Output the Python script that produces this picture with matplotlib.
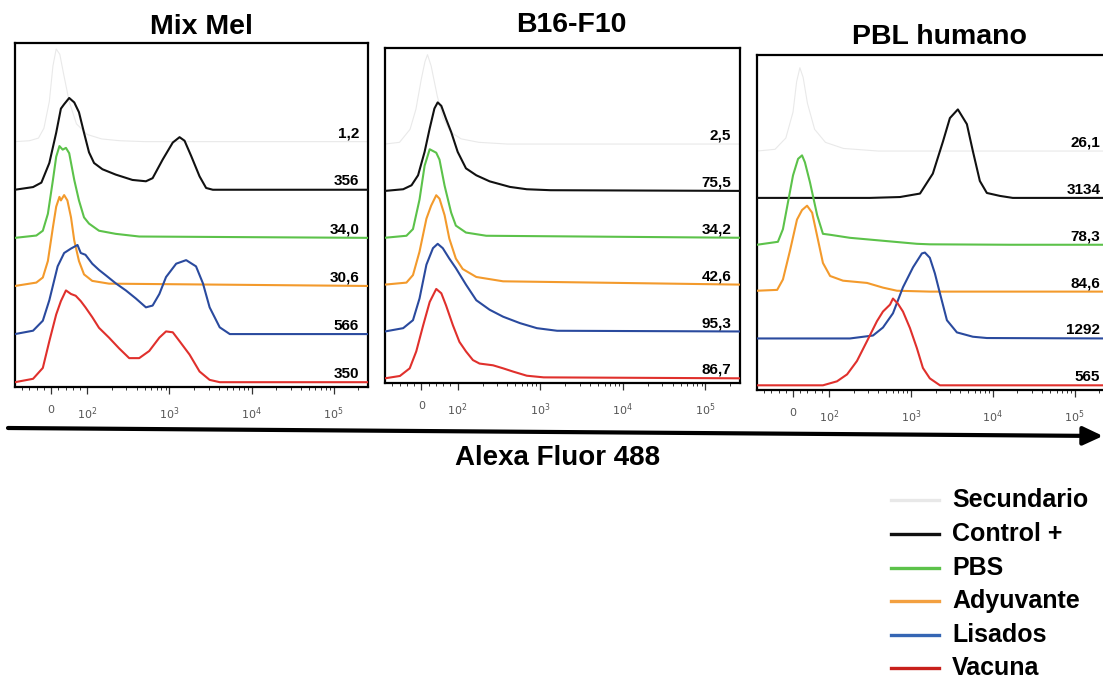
import numpy as np
import matplotlib
matplotlib.use("Agg")
import matplotlib.pyplot as plt
from matplotlib.lines import Line2D
from matplotlib.patches import FancyArrowPatch
from matplotlib.ticker import FixedLocator, NullFormatter
import matplotlib.transforms as mtransforms

plt.rcParams["font.family"] = ["Liberation Sans", "DejaVu Sans"]

W, H = 1103, 678
STEP = 54                 # vertical offset between stacked histograms (% of mode)
XMIN, XMAX = -100, 262144

SERIES = ["Secundario", "Control +", "PBS", "Adyuvante", "Lisados", "Vacuna"]
COLORS = ["#e9e9e9", "#111111", "#5cc24a", "#f39a2c", "#2a4a9e", "#e0302c"]
LEG_COLORS = ["#e8e8e8", "#111111", "#5cc24a", "#f3a040", "#3566b4", "#c8201c"]
PANELS = ["Mix Mel", "B16-F10", "PBL humano"]

# MFI printed at the right end of each trace
MFI_MIXMEL = ["1,2", "356", "34,0", "30,6", "566", "350"]
MFI_B16 = ["2,5", "75,5", "34,2", "42,6", "95,3", "86,7"]
MFI_PBL = ["26,1", "3134", "78,3", "84,6", "1292", "565"]

# histogram traces: (Alexa Fluor 488 intensity, % of mode)
mix_sec = ([-100, -60, -35, -20, -5, 5, 14, 24, 35, 50, 70, 100, 150, 250, 500, 262000],
           [0, 1, 4, 15, 45, 85, 104, 98, 75, 45, 20, 8, 3, 1, 0, 0])
mix_ctrl = ([-100, -50, -27, -5, 14, 27, 36, 50, 64, 77, 91, 105, 121, 153, 222, 355, 518, 625,
             830, 1100, 1330, 1530, 1840, 2330, 2800, 3380, 262000],
            [0, 3, 8, 30, 64, 91, 96, 103, 98, 87, 64, 42, 30, 23, 17, 11, 9.5, 13,
             34, 53, 59, 55, 38, 15, 2, 0, 0])
mix_pbs = ([-100, -41, -23, -9, 5, 14, 23, 32, 41, 50, 64, 77, 91, 105, 139, 222, 429, 262000],
           [0, 2.6, 8, 27, 65, 91, 103, 99, 101, 95, 65, 42, 23, 16, 8, 4.5, 1.5, 0])
mix_ady = ([-100, -41, -23, -9, 5, 14, 23, 27, 36, 45, 55, 64, 77, 91, 115, 184, 262000],
           [0, 3.8, 9.5, 28, 66, 89, 100, 96, 102, 96, 77, 51, 28, 13, 5.7, 2.6, 0])
mix_lis = ([-100, -50, -23, -5, 18, 36, 55, 73, 82, 95, 115, 139, 168, 222, 295, 390, 518, 625,
            755, 910, 1210, 1600, 2110, 2560, 3090, 4100, 5440, 262000],
           [0, 3.8, 15, 38, 76, 91, 96, 100, 91, 89, 79, 72, 66, 57, 49, 40, 30, 32,
            45, 64, 79, 83, 76, 57, 30, 7.6, 0, 0])
mix_vac = ([-100, -50, -23, -5, 14, 27, 41, 55, 68, 82, 95, 115, 139, 184, 244, 324, 429, 568,
            755, 910, 1100, 1330, 1760, 2330, 3090, 4100, 262000],
           [0, 3.8, 16, 46, 76, 91, 103, 99, 97, 91, 84, 73, 61, 50, 38, 27, 27, 35,
            50, 57, 56, 46, 31, 12, 2.6, 0, 0])

b16_sec = ([-100, -60, -31, -15, 0, 10, 17, 27, 44, 60, 80, 110, 180, 400, 262000],
           [0, 2, 17, 40, 75, 95, 103, 90, 55, 30, 14, 6, 2, 0, 0])
b16_ctrl = ([-100, -50, -27, -9, 9, 23, 36, 45, 55, 68, 82, 100, 126, 168, 244, 429, 687, 1330, 262000],
            [0, 1.9, 6.5, 18, 45, 72, 95, 102, 98, 83, 68, 45, 26, 18, 11, 4.6, 1.9, 0.8, 0])
b16_pbs = ([-100, -41, -23, -5, 9, 23, 32, 41, 50, 64, 82, 95, 126, 222, 262000],
           [0, 2.3, 10, 44, 83, 102, 100, 98, 90, 60, 29, 14, 6, 2.3, 0])
b16_ady = ([-100, -41, -23, -5, 14, 27, 41, 50, 64, 77, 95, 115, 168, 355, 262000],
           [0, 2.3, 11, 38, 76, 91, 103, 99, 80, 53, 30, 18, 8.8, 3.8, 0])
b16_lis = ([-100, -50, -23, -5, 14, 32, 45, 59, 77, 95, 126, 168, 244, 355, 568, 910, 1600, 262000],
           [0, 3.8, 13, 38, 77, 96, 101, 96, 84, 73, 54, 36, 25, 17, 9.6, 3.8, 0.8, 0])
b16_vac = ([-100, -59, -32, -14, 5, 23, 41, 55, 68, 87, 105, 126, 153, 184, 268, 355, 471, 687, 1100, 262000],
           [0, 2.7, 11.5, 31, 61, 88, 103, 98, 84, 61, 42, 31, 21, 17, 15, 11.5, 7.7, 3, 1.1, 0])

pbl_sec = ([-100, -50, -20, 0, 10, 19, 28, 40, 60, 90, 150, 400, 262000],
           [0, 2, 15, 45, 80, 96, 85, 55, 25, 10, 3, 0, 0])
pbl_ctrl = ([-100, 316, 734, 972, 1290, 1850, 2460, 2990, 3740, 4820, 5700, 6940, 8450, 12200, 17500, 262000],
            [0, 0, 1, 3, 5, 28, 65, 92, 102, 85, 54, 19.5, 5.7, 2.3, 0, 0])
pbl_pbs = ([-100, -42, -28, -14, 0, 14, 25, 33, 47, 67, 83, 103, 180, 455, 1180, 1700, 16200, 262000],
           [0, 3.4, 18, 49, 80, 99, 103, 95, 72, 34, 12.6, 11.5, 8, 4.6, 1.1, 0.5, 0, 0])
pbl_ady = ([-100, -44, -28, -8, 11, 25, 39, 53, 67, 83, 103, 148, 291, 455, 675, 1700, 262000],
           [1, 2, 14, 48, 83, 94, 99, 91, 64, 33, 18, 12.6, 10, 4.6, 1, 0, 0])
pbl_lis = ([-100, 180, 344, 455, 603, 799, 1060, 1360, 1480, 1700, 1960, 2260, 2750, 3640, 5700, 8450, 262000],
           [0, 0, 3.4, 12.6, 29, 59, 82, 98, 99, 93, 75, 52, 21, 7, 2, 0.5, 0])
pbl_vac = ([-100, 83, 125, 166, 219, 291, 385, 455, 555, 603, 694, 799, 972, 1180, 1400, 1700, 2260, 262000],
           [0, 0, 4.6, 12.6, 28, 51, 74, 85, 93, 100, 94, 85, 66, 43, 20, 8, 0, 0])

TRACES = [
    [mix_sec, mix_ctrl, mix_pbs, mix_ady, mix_lis, mix_vac],
    [b16_sec, b16_ctrl, b16_pbs, b16_ady, b16_lis, b16_vac],
    [pbl_sec, pbl_ctrl, pbl_pbs, pbl_ady, pbl_lis, pbl_vac],
]
MFIS = [MFI_MIXMEL, MFI_B16, MFI_PBL]


def rect(l, t, r, b):
    return [l / W, 1 - b / H, (r - l) / W, (b - t) / H]


def px(x, y):
    return x / W, 1 - y / H


fig = plt.figure(figsize=(W / 100, H / 100), dpi=100)

boxes = [rect(15, 43, 368, 387), rect(385, 48, 740, 383), rect(757, 55, 1109, 390)]
title_pos = [(201, 27), (571, 25), (939, 37)]

minor = [-80, -60, -40, -20, 20, 40, 60, 80] + \
        [k * 10 ** d for d in (2, 3, 4) for k in range(2, 10)] + [2e5]

for box, name, tpos, traces, mfis in zip(boxes, PANELS, title_pos, TRACES, MFIS):
    ax = fig.add_axes(box)
    ax.set_xscale("symlog", linthresh=100, linscale=0.396)
    lab_tr = mtransforms.blended_transform_factory(ax.transAxes, ax.transData)
    for i, ((x, y), col) in enumerate(zip(traces, COLORS)):
        off = (5 - i) * STEP
        ax.plot(x, np.asarray(y) + off, color=col, lw=1.5 if i else 0.8, zorder=2 + i)
        ax.text(0.975, off + 5, mfis[i], transform=lab_tr,
                ha="right", va="baseline", fontsize=11, weight="bold", zorder=10)
    ax.set_xlim(XMIN, XMAX)
    ax.set_ylim(-0.1 * STEP, 7.05 * STEP)
    ax.set_yticks([])
    ax.xaxis.set_major_locator(FixedLocator([0, 1e2, 1e3, 1e4, 1e5]))
    ax.xaxis.set_minor_locator(FixedLocator(minor))
    ax.xaxis.set_minor_formatter(NullFormatter())
    ax.set_xticklabels(["0", "$10^2$", "$10^3$", "$10^4$", "$10^5$"],
                       fontsize=8, color="#555555", family="DejaVu Sans")
    ax.tick_params(axis="x", which="major", length=5, width=0.9, color="#333333", pad=8)
    ax.tick_params(axis="x", which="minor", length=2.5, width=0.7, color="#333333")
    for sp in ax.spines.values():
        sp.set_linewidth(1.6)
        sp.set_color("black")
    fig.text(*px(*tpos), name, ha="center", va="center", fontsize=20.5, weight="bold")

# common x axis arrow and label
fig.add_artist(FancyArrowPatch(px(8, 428), px(1103, 436), transform=fig.transFigure,
                               arrowstyle="-|>,head_length=0.6,head_width=0.28",
                               mutation_scale=20, lw=3, color="black", shrinkA=0, shrinkB=0))
fig.text(*px(558, 458), "Alexa Fluor 488", ha="center", va="center", fontsize=20, weight="bold")

# legend
leg_y = [500, 534, 568, 601, 635, 668]
for name, col, y in zip(SERIES, LEG_COLORS, leg_y):
    (x0, y0), (x1, _) = px(891, y), px(939, y)
    fig.add_artist(Line2D([x0, x1], [y0, y0], transform=fig.transFigure, color=col, lw=2.4))
    fig.text(*px(952, y), name, ha="left", va="center", fontsize=18, weight="bold")

fig.savefig("out.png", dpi=100)
